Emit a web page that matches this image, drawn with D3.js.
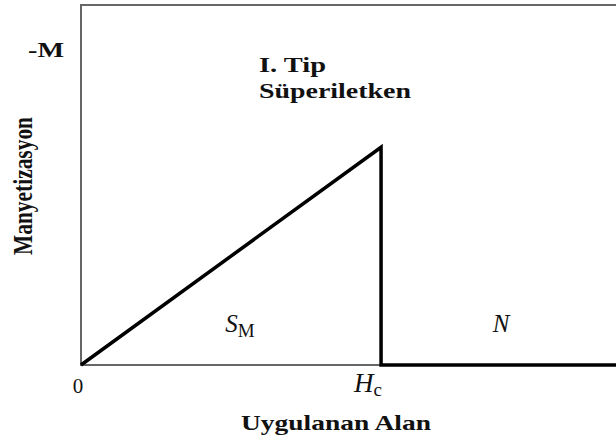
<!DOCTYPE html>
<html>
<head>
<meta charset="utf-8">
<script src="https://cdn.jsdelivr.net/npm/d3@7"></script>
<style>
  body { margin: 0; background: #fff; }
  svg { display: block; }
  text { font-family: "Liberation Serif", "Times New Roman", serif; fill: #111; }
</style>
</head>
<body>
<div id="chart"></div>
<script>
// applied field H (in units of Hc) and magnetization -M (in units of M at Hc)
const fieldH = [0, 1, 1, 1.8];
const magM = [0, 1, 0, 0];

// x tick labels
const xTickValues = [0, 1];
const xTickLabels = ["0", "H"];

// region labels
const regionNames = ["S", "N"];
const regionSubs = ["M", ""];
const regionX = [0.53, 1.4];
const regionY = [0.15, 0.15];

const width = 616, height = 442;
const margin = { left: 81, top: 5, right: 0, bottom: 77 };

const svg = d3.select("#chart")
    .append("svg")
    .attr("width", width)
    .attr("height", height);

const x = d3.scaleLinear()
    .domain([0, 1.783])
    .range([margin.left, width - margin.right]);

const y = d3.scaleLinear()
    .domain([0, 1.653])
    .range([height - margin.bottom, margin.top]);

// frame: left, top and bottom lines
svg.append("path")
    .attr("d", `M${width},${y(1.653)} H${x(0)} V${y(0)} H${width}`)
    .attr("fill", "none")
    .attr("stroke", "#666")
    .attr("stroke-width", 2);

// magnetization curve
const line = d3.line()
    .x((d, i) => x(fieldH[i]))
    .y(d => y(d));

svg.append("path")
    .datum(magM)
    .attr("d", line)
    .attr("fill", "none")
    .attr("stroke", "#000")
    .attr("stroke-width", 3.5)
    .attr("stroke-linejoin", "miter");

// x tick labels
svg.append("text")
    .attr("x", x(xTickValues[0]) - 3)
    .attr("y", 393)
    .style("font-size", "21px")
    .attr("text-anchor", "middle")
    .text(xTickLabels[0]);

const hc = svg.append("text")
    .attr("x", x(xTickValues[1]) - 27)
    .attr("y", 392)
    .style("font-size", "27px")
    .style("font-style", "italic");
hc.append("tspan").text(xTickLabels[1]);
hc.append("tspan")
    .style("font-style", "normal")
    .style("font-size", "19px")
    .attr("dy", 4)
    .text("c");

// region labels
regionNames.forEach((name, i) => {
    const t = svg.append("text")
        .attr("x", x(regionX[i]))
        .attr("y", y(regionY[i]))
        .style("font-size", "25px")
        .style("font-style", "italic")
        .attr("text-anchor", "middle");
    t.append("tspan").text(name);
    if (regionSubs[i]) {
        t.append("tspan")
            .style("font-style", "normal")
            .style("font-size", "19px")
            .attr("dy", 5)
            .text(regionSubs[i]);
    }
});

// axis titles
svg.append("text")
    .attr("x", 241)
    .attr("y", 430)
    .style("font-size", "21px")
    .style("font-weight", "bold")
    .attr("textLength", 190)
    .attr("lengthAdjust", "spacingAndGlyphs")
    .text("Uygulanan Alan");

svg.append("text")
    .attr("transform", "translate(32,255) rotate(-90)")
    .style("font-size", "27px")
    .style("font-weight", "bold")
    .attr("textLength", 138)
    .attr("lengthAdjust", "spacingAndGlyphs")
    .text("Manyetizasyon");

svg.append("text")
    .attr("x", 28)
    .attr("y", 57)
    .style("font-size", "20px")
    .style("font-weight", "bold")
    .attr("textLength", 36)
    .attr("lengthAdjust", "spacingAndGlyphs")
    .text("-M");

// curve type label
svg.append("text")
    .attr("x", 259)
    .attr("y", 72)
    .style("font-size", "21px")
    .style("font-weight", "bold")
    .attr("textLength", 67)
    .attr("lengthAdjust", "spacingAndGlyphs")
    .text("I. Tip");

svg.append("text")
    .attr("x", 259)
    .attr("y", 98)
    .style("font-size", "21px")
    .style("font-weight", "bold")
    .attr("textLength", 152)
    .attr("lengthAdjust", "spacingAndGlyphs")
    .text("Süperiletken");
</script>
</body>
</html>
